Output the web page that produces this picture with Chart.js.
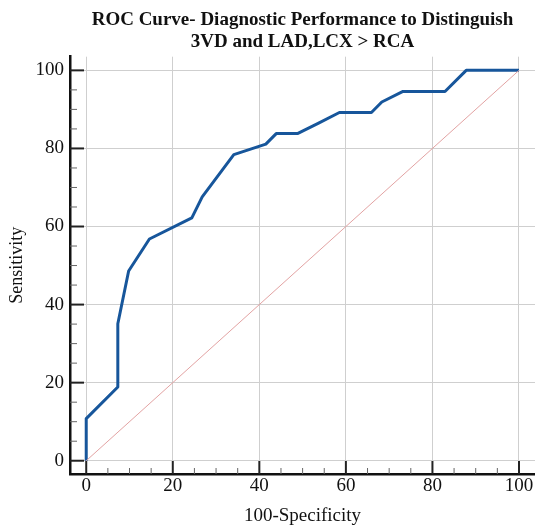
<!DOCTYPE html>
<html>
<head>
<meta charset="utf-8">
<script src="https://cdn.jsdelivr.net/npm/chart.js@4/dist/chart.umd.min.js"></script>
<style>
  html, body { margin: 0; padding: 0; background: #fff; }
  #wrap { width: 535px; height: 526px; }
</style>
</head>
<body>
<div id="wrap"><canvas id="roc"></canvas></div>
<script>
// data //////////////////////////////////////////////////////////////
const titleLines = ['ROC Curve- Diagnostic Performance to Distinguish', '3VD and LAD,LCX > RCA'];
const xTitle = '100-Specificity';
const yTitle = 'Sensitivity';

// ROC points (100-Specificity, Sensitivity)
const fpr = [0, 0, 7.3, 7.3, 9.8, 14.6, 24.4, 26.8, 34.1, 41.5, 43.9, 48.8, 53.7, 58.5, 65.9, 68.3, 73.2, 82.9, 87.8, 100];
const tpr = [0, 10.8, 18.9, 35.1, 48.6, 56.8, 62.2, 67.6, 78.4, 81.1, 83.8, 83.8, 86.5, 89.2, 89.2, 91.9, 94.6, 94.6, 100, 100];

// reference diagonal
const refX = [0, 100];
const refY = [0, 100];

const majorTicks = [0, 20, 40, 60, 80, 100];

const serif = "'Liberation Serif', 'Times New Roman', serif";

const toPoints = (xs, ys) => xs.map((x, i) => ({ x, y: ys[i] }));

// 안쪽으로 향하는 눈금
const innerTicks = {
  id: 'innerTicks',
  beforeDatasetsDraw(chart) {
    const { ctx, chartArea, scales } = chart;
    ctx.save();
    scales.x.ticks.forEach((t) => {
      const major = majorTicks.includes(t.value);
      const px = scales.x.getPixelForValue(t.value);
      ctx.strokeStyle = major ? '#222' : '#666';
      ctx.lineWidth = major ? 2 : 1;
      ctx.beginPath();
      ctx.moveTo(px, chartArea.bottom);
      ctx.lineTo(px, chartArea.bottom - (major ? 13 : 6));
      ctx.stroke();
    });
    scales.y.ticks.forEach((t) => {
      const major = majorTicks.includes(t.value);
      const py = scales.y.getPixelForValue(t.value);
      ctx.strokeStyle = major ? '#222' : '#666';
      ctx.lineWidth = major ? 2 : 1;
      ctx.beginPath();
      ctx.moveTo(chartArea.left, py);
      ctx.lineTo(chartArea.left + (major ? 14 : 7), py);
      ctx.stroke();
    });
    ctx.restore();
  },
};

const whiteBg = {
  id: 'whiteBg',
  beforeDraw(chart) {
    const { ctx, width, height } = chart;
    ctx.save();
    ctx.fillStyle = '#fff';
    ctx.fillRect(0, 0, width, height);
    ctx.restore();
  },
};

const axisCommon = {
  type: 'linear',
  border: { display: true, color: '#111', width: 2.5 },
  grid: {
    drawTicks: false,
    color: (c) => (c.tick && majorTicks.includes(c.tick.value) ? '#cfcfcf' : 'rgba(0,0,0,0)'),
    lineWidth: 1,
  },
  ticks: {
    stepSize: 5,
    autoSkip: false,
    includeBounds: false,
    color: '#111',
    font: { family: serif, size: 19 },
    callback: (v) => (majorTicks.includes(v) ? String(v) : ''),
  },
};

new Chart(document.getElementById('roc'), {
  type: 'line',
  data: {
    datasets: [
      {
        label: 'Reference',
        data: toPoints(refX, refY),
        borderColor: '#e3a3a3',
        borderWidth: 1,
        pointRadius: 0,
        tension: 0,
      },
      {
        label: 'ROC',
        data: toPoints(fpr, tpr),
        borderColor: '#17569b',
        borderWidth: 3,
        pointRadius: 0,
        tension: 0,
        borderJoinStyle: 'round',
      },
    ],
  },
  options: {
    responsive: true,
    maintainAspectRatio: false,
    animation: false,
    layout: { padding: 0 },
    scales: {
      x: {
        ...axisCommon,
        min: -3.75,
        max: 103.7,
        border: { ...axisCommon.border, dash: [] },
        grid: { ...axisCommon.grid },
        ticks: { ...axisCommon.ticks, padding: 1, maxRotation: 0 },
        title: {
          display: true,
          text: xTitle,
          color: '#111',
          font: { family: serif, size: 19, lineHeight: 1 },
          padding: 0,
        },
        afterFit: (s) => { s.height = 52; },
      },
      y: {
        ...axisCommon,
        min: -3.4,
        max: 103.5,
        ticks: { ...axisCommon.ticks, padding: 6 },
        title: {
          display: true,
          text: yTitle,
          color: '#111',
          font: { family: serif, size: 18, lineHeight: 1.2 },
          padding: { top: 6, bottom: 0 },
        },
        afterFit: (s) => { s.width = 70; },
      },
    },
    plugins: {
      legend: { display: false },
      tooltip: { enabled: false },
      title: {
        display: true,
        text: titleLines,
        fullSize: false,
        color: '#111',
        font: { family: serif, size: 19, weight: 'bold', lineHeight: 1.15 },
        padding: { top: 9, bottom: 4 },
      },
    },
  },
  plugins: [whiteBg, innerTicks],
});
</script>
</body>
</html>
